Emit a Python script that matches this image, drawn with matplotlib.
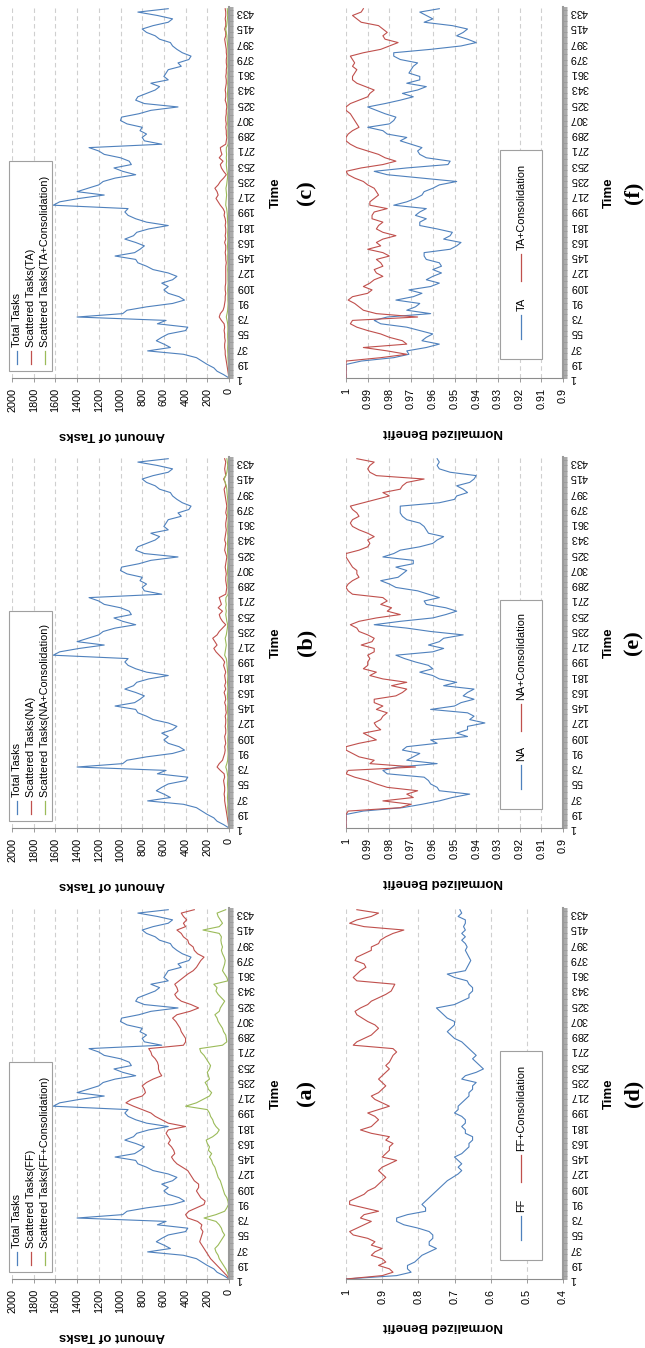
import matplotlib
matplotlib.use("Agg")
import matplotlib.pyplot as plt
from matplotlib.patches import Rectangle

plt.rcParams['font.family'] = ['Liberation Sans', 'DejaVu Sans']

# time steps (every 4th step)
TIME = list(range(1, 438, 4))
TIME_TICKS = list(range(1, 434, 18))

TOTAL_TASKS = [
    0, 50, 110, 140, 200, 250, 300, 420, 750, 540, 600,
    670, 620, 560, 400, 380, 660, 580, 1400, 980, 940, 760,
    520, 410, 460, 560, 600, 560, 620, 520, 480, 560, 700,
    760, 840, 860, 1050, 870, 820, 780, 860, 960, 880, 850,
    740, 560, 760, 860, 930, 960, 930, 1620, 1560, 1380, 1150,
    1400, 1300, 1200, 1160, 1050, 860, 980, 1060, 900, 920, 1000,
    1150, 1200, 1290, 620, 780, 800, 760, 820, 800, 940, 1000,
    990, 830, 720, 470, 780, 860, 840, 760, 680, 640, 720,
    560, 600, 580, 560, 440, 470, 370, 350, 430, 480, 520,
    540, 640, 680, 760, 800, 700, 560, 520, 660, 840, 560,
]
SCATTERED_FF = [
    0, 20, 50, 80, 110, 140, 170, 190, 210, 230, 250,
    270, 260, 250, 240, 260, 250, 290, 380, 400, 370, 300,
    230, 220, 260, 280, 300, 280, 280, 320, 340, 360, 380,
    430, 480, 510, 530, 500, 510, 530, 560, 540, 560, 580,
    560, 400, 560, 620, 680, 720, 800, 880, 950, 900, 800,
    770, 780, 800, 760, 700, 620, 640, 650, 650, 660, 680,
    710, 720, 740, 420, 400, 400, 420, 440, 450, 470, 490,
    520, 480, 360, 280, 350, 440, 480, 500, 470, 480, 500,
    460, 420, 380, 330, 300, 280, 260, 230, 290, 320, 330,
    370, 380, 420, 440, 480, 400, 420, 390, 420, 440, 320,
]
SCATTERED_FF_CONS = [
    0, 5, 15, 30, 50, 70, 90, 100, 120, 130, 100,
    80, 60, 40, 60, 70, 90, 120, 230, 120, 40, 20,
    5, 10, 20, 40, 50, 60, 70, 80, 100, 110, 120,
    130, 150, 160, 180, 160, 190, 180, 200, 210, 150, 110,
    90, 120, 140, 150, 170, 180, 200, 400, 300, 240, 180,
    160, 190, 200, 220, 180, 190, 200, 180, 170, 190, 210,
    230, 260, 270, 60, 20, 25, 30, 50, 60, 80, 100,
    110, 130, 90, 80, 60, 40, 70, 100, 120, 110, 140,
    10, 20, 40, 60, 50, 40, 35, 45, 60, 70, 60,
    70, 75, 70, 90, 240, 90, 60, 80, 100, 110, 30,
]
SCATTERED_NA = [
    0, 5, 10, 15, 20, 25, 30, 35, 40, 40, 45,
    40, 40, 45, 50, 40, 45, 80, 110, 90, 60, 50,
    40, 35, 40, 30, 35, 40, 30, 30, 35, 30, 30,
    35, 25, 30, 30, 40, 30, 35, 45, 30, 40, 30,
    35, 40, 30, 40, 50, 40, 60, 90, 120, 140, 110,
    130, 150, 110, 90, 60, 30, 60, 80, 90, 60, 100,
    70, 80, 90, 30, 25, 20, 25, 30, 30, 25, 30,
    35, 30, 25, 20, 30, 40, 35, 30, 40, 35, 30,
    25, 30, 30, 25, 20, 30, 25, 20, 25, 30, 35,
    40, 45, 30, 35, 50, 30, 35, 40, 35, 30, 40,
]
SCATTERED_NA_CONS = [
    0, 2, 4, 6, 8, 10, 12, 10, 12, 14, 12,
    10, 12, 14, 12, 10, 15, 20, 30, 20, 12, 10,
    8, 10, 12, 10, 12, 10, 8, 10, 12, 10, 12,
    10, 12, 14, 12, 10, 12, 15, 12, 10, 12, 14,
    12, 10, 12, 15, 18, 20, 25, 40, 35, 30, 25,
    30, 35, 25, 20, 15, 12, 20, 25, 30, 25, 30,
    25, 30, 28, 8, 6, 8, 10, 12, 10, 12, 14,
    12, 10, 8, 10, 12, 14, 12, 15, 12, 10, 12,
    10, 12, 10, 8, 10, 12, 10, 8, 10, 12, 15,
    18, 20, 25, 35, 45, 30, 20, 15, 12, 15, 20,
]
SCATTERED_TA = [
    0, 5, 10, 15, 20, 25, 30, 35, 35, 40, 40,
    35, 40, 40, 45, 40, 45, 70, 90, 80, 55, 45,
    40, 35, 35, 30, 35, 35, 30, 30, 30, 30, 30,
    30, 25, 30, 30, 35, 30, 30, 40, 30, 35, 30,
    30, 35, 30, 35, 45, 40, 55, 80, 100, 120, 100,
    110, 130, 100, 80, 50, 25, 50, 70, 80, 55, 90,
    65, 75, 80, 30, 25, 20, 25, 25, 30, 25, 30,
    30, 25, 25, 20, 25, 35, 30, 30, 35, 30, 25,
    25, 30, 25, 25, 20, 25, 25, 20, 25, 25, 30,
    35, 40, 30, 30, 40, 30, 30, 35, 30, 30, 35,
]
SCATTERED_TA_CONS = [
    0, 2, 4, 5, 6, 8, 10, 10, 12, 12, 10,
    10, 12, 12, 10, 10, 12, 18, 25, 18, 12, 10,
    8, 10, 10, 10, 12, 10, 8, 10, 10, 10, 12,
    10, 10, 12, 12, 10, 12, 14, 12, 10, 12, 12,
    10, 10, 12, 14, 15, 18, 22, 30, 28, 25, 22,
    25, 28, 22, 18, 14, 12, 18, 22, 25, 22, 25,
    22, 25, 24, 8, 6, 8, 10, 10, 10, 12, 12,
    12, 10, 8, 10, 10, 12, 12, 14, 12, 10, 12,
    10, 10, 10, 8, 10, 10, 10, 8, 10, 10, 12,
    15, 18, 20, 25, 30, 22, 18, 15, 12, 14, 16,
]

BENEFIT_FF = [
    1.0, 0.86, 0.82, 0.83, 0.83, 0.81, 0.80, 0.79, 0.77, 0.75, 0.77,
    0.77, 0.76, 0.76, 0.77, 0.80, 0.84, 0.86, 0.86, 0.83, 0.78, 0.78,
    0.79, 0.78, 0.77, 0.76, 0.75, 0.74, 0.73, 0.72, 0.705, 0.69, 0.68,
    0.69, 0.68, 0.69, 0.70, 0.68, 0.67, 0.66, 0.66, 0.65, 0.65, 0.67,
    0.67, 0.68, 0.67, 0.67, 0.68, 0.70, 0.69, 0.69, 0.68, 0.67, 0.66,
    0.66, 0.65, 0.65, 0.64, 0.68, 0.67, 0.64, 0.62, 0.63, 0.64, 0.65,
    0.64, 0.65, 0.66, 0.67, 0.68, 0.70, 0.71, 0.72, 0.71, 0.70, 0.70,
    0.72, 0.73, 0.74, 0.75, 0.70, 0.68, 0.66, 0.66, 0.65, 0.65, 0.66,
    0.665, 0.70, 0.72, 0.67, 0.665, 0.66, 0.655, 0.66, 0.665, 0.67, 0.665,
    0.67, 0.68, 0.67, 0.68, 0.67, 0.675, 0.67, 0.67, 0.69, 0.68, 0.685,
]
BENEFIT_FF_CONS = [
    1.0, 0.90, 0.87, 0.88, 0.91, 0.89, 0.90, 0.93, 0.92, 0.90, 0.93,
    0.92, 0.94, 0.98, 0.99, 0.97, 0.95, 0.93, 0.96, 0.95, 0.91, 0.95,
    0.99, 0.99, 0.97, 0.95, 0.94, 0.92, 0.91, 0.90, 0.89, 0.90, 0.91,
    0.90, 0.88, 0.86, 0.90, 0.89, 0.88, 0.88, 0.87, 0.89, 0.88, 0.93,
    0.96, 0.93, 0.92, 0.91, 0.92, 0.94, 0.91, 0.88, 0.90, 0.92, 0.93,
    0.91, 0.90, 0.89, 0.90, 0.91, 0.90, 0.89, 0.88, 0.89, 0.88, 0.875,
    0.87, 0.86, 0.87, 0.98, 0.97, 0.95, 0.93, 0.92, 0.91, 0.92, 0.94,
    0.955, 0.97, 0.975, 0.96, 0.94, 0.93, 0.91, 0.89, 0.875, 0.87, 0.865,
    0.97, 0.98, 0.97, 0.96, 0.945, 0.95, 0.975, 0.97, 0.95, 0.93, 0.93,
    0.91, 0.905, 0.89, 0.87, 0.84, 0.95, 0.99, 0.97, 0.93, 0.91, 0.97,
]
BENEFIT_NA = [
    1.0, 1.0, 1.0, 1.0, 1.0, 0.992, 0.974, 0.965, 0.957, 0.951, 0.943,
    0.957, 0.958, 0.961, 0.962, 0.964, 0.981, 0.983, 0.976, 0.958, 0.972, 0.969,
    0.966, 0.974, 0.972, 0.958, 0.961, 0.944, 0.949, 0.944, 0.944, 0.936, 0.943,
    0.941, 0.944, 0.961, 0.950, 0.947, 0.941, 0.946, 0.944, 0.941, 0.955, 0.949,
    0.957, 0.960, 0.966, 0.960, 0.962, 0.968, 0.973, 0.977, 0.960, 0.955, 0.962,
    0.957, 0.955, 0.946, 0.961, 0.972, 0.987, 0.975, 0.960, 0.954, 0.949, 0.954,
    0.963, 0.964, 0.957, 0.962, 0.967, 0.977, 0.980, 0.984, 0.976, 0.974, 0.972,
    0.977, 0.969, 0.969, 0.983, 0.978, 0.975, 0.966, 0.960, 0.958, 0.955, 0.962,
    0.963, 0.964, 0.966, 0.972, 0.974, 0.975, 0.975, 0.975, 0.957, 0.950, 0.949,
    0.944, 0.946, 0.949, 0.943, 0.941, 0.940, 0.952, 0.957, 0.958, 0.957, 0.958,
]
BENEFIT_NA_CONS = [
    1.0, 1.0, 1.0, 1.0, 1.0, 0.999, 0.975, 0.970, 0.983, 0.969, 0.972,
    0.967, 0.981, 0.986, 0.990, 0.996, 1.0, 0.999, 0.968, 0.989, 0.987, 0.994,
    0.997, 1.0, 1.0, 0.994, 0.986, 0.989, 0.992, 0.984, 0.986, 0.987, 0.984,
    0.983, 0.981, 0.986, 0.983, 0.987, 0.987, 0.977, 0.974, 0.972, 0.979, 0.972,
    0.983, 0.989, 0.986, 0.992, 0.990, 0.990, 0.989, 0.990, 0.987, 0.987, 0.993,
    0.988, 0.987, 0.990, 0.994, 0.995, 0.998, 0.994, 0.986, 0.975, 0.981, 0.979,
    0.984, 0.981, 0.983, 0.997, 0.999, 1.0, 0.999, 0.997, 0.994, 0.995, 0.995,
    0.997, 0.998, 0.999, 1.0, 1.0, 0.994, 0.990, 0.989, 0.990, 0.987, 0.990,
    0.994, 0.997, 0.998, 0.997, 0.994, 0.995, 0.997, 0.998, 0.992, 0.986, 0.980,
    0.983, 0.975, 0.974, 0.972, 0.964, 0.986, 0.989, 0.990, 0.989, 0.987, 0.995,
]
BENEFIT_TA = [
    1.0, 1.0, 1.0, 1.0, 1.0, 0.993, 0.978, 0.971, 0.972, 0.963, 0.957,
    0.965, 0.963, 0.960, 0.966, 0.972, 0.984, 0.987, 0.981, 0.961, 0.972, 0.968,
    0.966, 0.977, 0.969, 0.965, 0.971, 0.961, 0.957, 0.963, 0.960, 0.956, 0.960,
    0.956, 0.957, 0.963, 0.964, 0.964, 0.952, 0.949, 0.947, 0.955, 0.952, 0.951,
    0.958, 0.966, 0.966, 0.963, 0.968, 0.966, 0.963, 0.978, 0.972, 0.968, 0.965,
    0.964, 0.960, 0.957, 0.949, 0.965, 0.981, 0.987, 0.972, 0.953, 0.952, 0.963,
    0.966, 0.967, 0.965, 0.970, 0.975, 0.972, 0.981, 0.983, 0.990, 0.980, 0.978,
    0.977, 0.982, 0.986, 0.990, 0.982, 0.975, 0.969, 0.974, 0.967, 0.963, 0.972,
    0.966, 0.966, 0.971, 0.970, 0.969, 0.967, 0.975, 0.978, 0.978, 0.961, 0.947,
    0.940, 0.944, 0.949, 0.946, 0.944, 0.951, 0.964, 0.960, 0.963, 0.966, 0.957,
]
BENEFIT_TA_CONS = [
    1.0, 1.0, 1.0, 1.0, 1.0, 1.0, 0.984, 0.972, 0.981, 0.992, 0.972,
    0.974, 0.980, 0.984, 0.990, 0.995, 0.998, 0.997, 0.967, 0.986, 0.992, 0.994,
    0.996, 0.999, 0.997, 0.990, 0.988, 0.992, 0.989, 0.987, 0.983, 0.986, 0.987,
    0.983, 0.984, 0.986, 0.980, 0.983, 0.990, 0.984, 0.986, 0.983, 0.977, 0.983,
    0.986, 0.985, 0.983, 0.988, 0.988, 0.987, 0.981, 0.989, 0.989, 0.987, 0.985,
    0.986, 0.987, 0.990, 0.992, 0.996, 0.999, 1.0, 0.993, 0.983, 0.977, 0.982,
    0.985, 0.990, 0.995, 0.998, 1.0, 1.0, 0.999, 0.997, 0.994, 0.995, 0.996,
    0.997, 0.998, 1.0, 1.0, 0.998, 0.994, 0.990, 0.989, 0.987, 0.991, 0.995,
    0.997, 0.997, 0.996, 0.995, 0.997, 0.996, 0.997, 0.998, 0.992, 0.984, 0.980,
    0.976, 0.982, 0.983, 0.981, 0.983, 0.985, 0.993, 0.995, 0.997, 0.993, 0.992,
]

TASK_TICKS = [2000, 1800, 1600, 1400, 1200, 1000, 800, 600, 400, 200, 0]
FF_TICKS = [1.0, 0.9, 0.8, 0.7, 0.6, 0.5, 0.4]
FF_TICK_LABELS = ['1', '0.9', '0.8', '0.7', '0.6', '0.5', '0.4']
NA_TICKS = [1.0, 0.99, 0.98, 0.97, 0.96, 0.95, 0.94, 0.93, 0.92, 0.91, 0.9]
NA_TICK_LABELS = ['1', '0.99', '0.98', '0.97', '0.96', '0.95', '0.94', '0.93', '0.92', '0.91', '0.9']

BLUE, RED, GREEN = '#4F81BD', '#C0504D', '#9BBB59'
AXIS_GRAY = '#8c8c8c'

W, H = 645, 1348
fig = plt.figure(figsize=(W / 100, H / 100), dpi=100)


def px_box(x0, x1, ytop, ybot):
    return [x0 / W, 1 - ybot / H, (x1 - x0) / W, (ybot - ytop) / H]


def style_axes(ax, ticks, labels, xlim):
    ax.set_xlim(*xlim)
    ax.set_ylim(1, 439)
    ax.set_xticks(ticks)
    ax.set_xticklabels(labels, rotation=90, ha='center', va='top')
    ax.yaxis.tick_right()
    ax.set_yticks(TIME_TICKS)
    ax.set_yticklabels([str(t) for t in TIME_TICKS], rotation=180, ha='left', va='center')
    ax.set_yticks(range(1, 440), minor=True)
    ax.tick_params(axis='y', which='both', direction='out', length=3, width=0.6,
                   color='#9a9a9a', pad=2, labelsize=7.8)
    ax.tick_params(axis='x', direction='out', length=3, width=0.6,
                   color=AXIS_GRAY, pad=4, labelsize=7.8)
    for s in ['left', 'top']:
        ax.spines[s].set_visible(False)
    ax.spines['bottom'].set_color(AXIS_GRAY)
    ax.spines['bottom'].set_linewidth(0.8)
    ax.spines['right'].set_color('#9a9a9a')
    ax.spines['right'].set_linewidth(1.5)
    ax.grid(axis='x', color='#cfcfcf', linestyle=(0, (4, 3)), linewidth=0.8)
    ax.set_axisbelow(True)


def draw_legend(ax, box, entries):
    x0, y0, x1, y1 = box
    ax.add_patch(Rectangle((x0, y0), x1 - x0, y1 - y0, transform=ax.transAxes,
                           facecolor='white', edgecolor='#a0a0a0', linewidth=0.8,
                           clip_on=False, zorder=5))
    for x, ya, yb, yt, label, color in entries:
        ax.plot([x, x], [ya, yb], transform=ax.transAxes, color=color,
                linewidth=0.9, clip_on=False, zorder=6)
        ax.text(x, yt, label, transform=ax.transAxes, rotation=90, ha='center',
                va='bottom', fontsize=7.8, zorder=6)


# one row per method: amount-of-tasks panel on the left, benefit panel on the right
panels = [
    ('FF', SCATTERED_FF, SCATTERED_FF_CONS, BENEFIT_FF, BENEFIT_FF_CONS, 908, 1279, '(a)', '(d)'),
    ('NA', SCATTERED_NA, SCATTERED_NA_CONS, BENEFIT_NA, BENEFIT_NA_CONS, 457, 828, '(b)', '(e)'),
    ('TA', SCATTERED_TA, SCATTERED_TA_CONS, BENEFIT_TA, BENEFIT_TA_CONS, 7, 378, '(c)', '(f)'),
]

for name, sc, sc_cons, ben, ben_cons, ytop, ybot, tag_l, tag_r in panels:
    # amount of tasks
    ax = fig.add_axes(px_box(12, 229, ytop, ybot))
    style_axes(ax, TASK_TICKS, [str(v) for v in TASK_TICKS], (2000, 0))
    ax.plot(TOTAL_TASKS, TIME, color=BLUE, linewidth=0.8)
    ax.plot(sc, TIME, color=RED, linewidth=0.8)
    ax.plot(sc_cons, TIME, color=GREEN, linewidth=0.8)
    draw_legend(ax, (-0.012, 0.019, 0.184, 0.585), [
        (0.021, 0.038, 0.072, 0.084, 'Total Tasks', BLUE),
        (0.088, 0.038, 0.072, 0.084, 'Scattered Tasks(%s)' % name, RED),
        (0.152, 0.038, 0.072, 0.084, 'Scattered Tasks(%s+Consolidation)' % name, GREEN),
    ])
    cy = (ytop + ybot) / 2
    fig.text(112 / W, 1 - (ybot + 57) / H, 'Amount of Tasks', rotation=180,
             ha='center', va='center', fontsize=9.5, fontweight='bold')
    fig.text(276 / W, 1 - cy / H, 'Time', rotation=90, ha='center', va='center',
             fontsize=9.5, fontweight='bold')
    fig.text(306 / W, 1 - cy / H, tag_l, rotation=90, ha='center', va='center',
             fontsize=16, fontweight='bold', family='Liberation Serif')

    # normalized benefit
    ax = fig.add_axes(px_box(346, 563, ytop, ybot))
    if name == 'FF':
        style_axes(ax, FF_TICKS, FF_TICK_LABELS, (1.0, 0.4))
        lab_off = 47
    else:
        style_axes(ax, NA_TICKS, NA_TICK_LABELS, (1.0, 0.9))
        lab_off = 54
    ax.plot(ben, TIME, color=BLUE, linewidth=0.8)
    ax.plot(ben_cons, TIME, color=RED, linewidth=0.8)
    draw_legend(ax, (0.71, 0.05, 0.905, 0.615), [
        (0.808, 0.105, 0.170, 0.180, name, BLUE),
        (0.808, 0.262, 0.335, 0.345, '%s+Consolidation' % name, RED),
    ])
    fig.text(443 / W, 1 - (ybot + lab_off) / H, 'Normalized Benefit', rotation=180,
             ha='center', va='center', fontsize=9.5, fontweight='bold')
    fig.text(609 / W, 1 - cy / H, 'Time', rotation=90, ha='center', va='center',
             fontsize=9.5, fontweight='bold')
    fig.text(633 / W, 1 - cy / H, tag_r, rotation=90, ha='center', va='center',
             fontsize=16, fontweight='bold', family='Liberation Serif')

fig.savefig('out.png', dpi=100)
